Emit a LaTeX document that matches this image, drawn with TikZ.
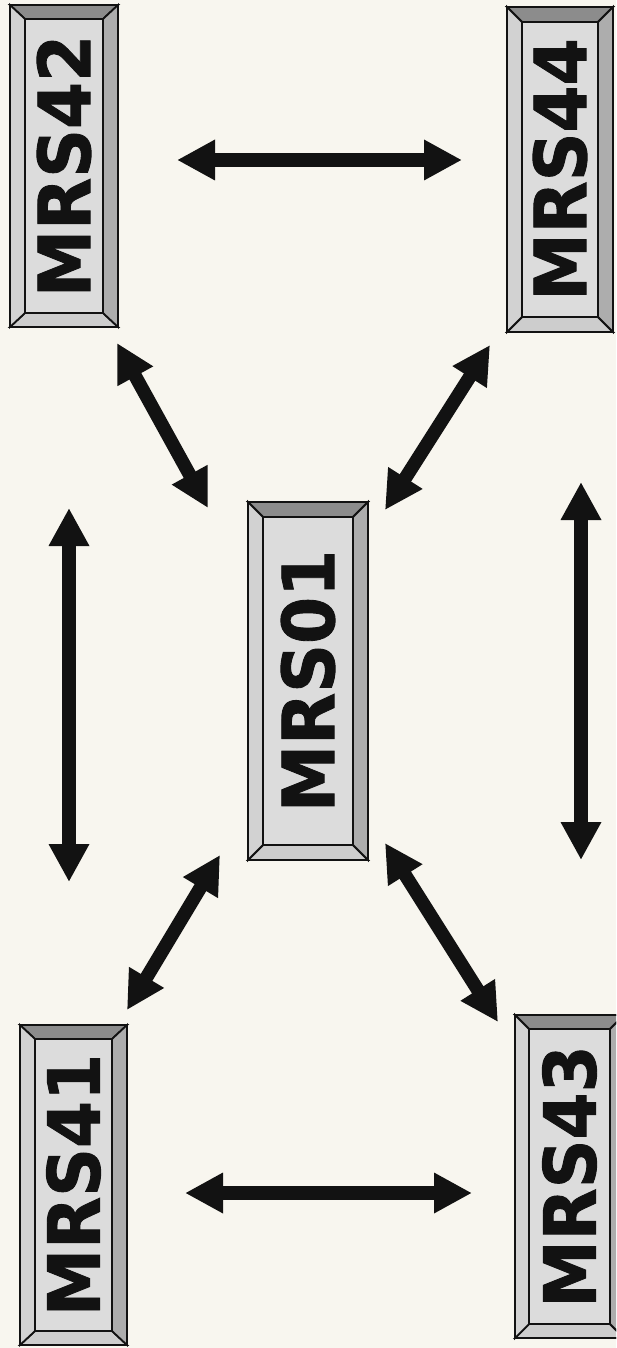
\documentclass[tikz,border=0pt]{standalone}
\usepackage{fontspec}
\newfontfamily\boxfont{DejaVu Sans}[BoldFont={DejaVu Sans Bold}, BoldFeatures={FakeBold=1.3}]
\usetikzlibrary{arrows.meta}
\definecolor{paper}{HTML}{F8F6EF}
\definecolor{bevdark}{HTML}{8C8C8C}
\definecolor{bevmid}{HTML}{ADADAD}
\definecolor{bevlight}{HTML}{D2D2D2}
\definecolor{bevlow}{HTML}{CDCDCD}
\definecolor{face}{HTML}{DCDCDC}
\definecolor{ink}{HTML}{121212}
\tikzset{
  bevline/.style={draw=ink, line width=1.8pt, line join=miter},
  boxlabel/.style={rotate=90, inner sep=0pt, text=ink,
    font=\boxfont\bfseries\fontsize{72}{72}\selectfont},
  link/.style={line width=13.5pt, draw=ink,
    {Triangle[length=38pt,width=38pt]}-{Triangle[length=38pt,width=38pt]}}
}
% name, ox1, oy1, ox2, oy2, inset x, inset y, label
\newcommand\bevelbox[8]{%
  \filldraw[bevline, fill=bevdark] (#2,#3) -- (#4,#3) -- (#4-#6,#3+#7) -- (#2+#6,#3+#7) -- cycle;
  \filldraw[bevline, fill=bevlow] (#2,#5) -- (#4,#5) -- (#4-#6,#5-#7) -- (#2+#6,#5-#7) -- cycle;
  \filldraw[bevline, fill=bevlight] (#2,#3) -- (#2+#6,#3+#7) -- (#2+#6,#5-#7) -- (#2,#5) -- cycle;
  \filldraw[bevline, fill=bevmid] (#4,#3) -- (#4-#6,#3+#7) -- (#4-#6,#5-#7) -- (#4,#5) -- cycle;
  \filldraw[bevline, fill=face] (#2+#6,#3+#7) rectangle (#4-#6,#5-#7);
  \draw[bevline] (#2,#3) rectangle (#4,#5);
  \node[boxlabel] (#1) at ({(#2+#4)/2},{(#3+#5)/2}) {\scalebox{0.94}[1]{#8}};
}
\begin{document}
\begin{tikzpicture}[x=1pt,y=-1pt]
  \fill[paper] (0,0) rectangle (616,1348);
  \useasboundingbox (0,0) rectangle (616,1348);
  \clip (0,0) rectangle (616,1348);

  \bevelbox{mrs42}{10}{5}{118}{327}{15}{14}{MRS42}
  \bevelbox{mrs44}{507}{7}{613}{332}{15}{15}{MRS44}
  \bevelbox{mrs01}{248}{502}{368}{860}{15}{15}{MRS01}
  \bevelbox{mrs41}{20}{1025}{127}{1345}{15}{14}{MRS41}
  \bevelbox{mrs43}{515}{1015}{624}{1338}{14}{14}{MRS43}

  % arrow end points
  \coordinate (t1) at (177,160);   \coordinate (t2) at (462,160);
  \coordinate (d1a) at (117,343);  \coordinate (d1b) at (208,508);
  \coordinate (d2a) at (490,345);  \coordinate (d2b) at (385,510);
  \coordinate (l1) at (69,508);    \coordinate (l2) at (69,882);
  \coordinate (r1) at (581,482);   \coordinate (r2) at (581,860);
  \coordinate (d3a) at (127,1010); \coordinate (d3b) at (220,855);
  \coordinate (d4a) at (385,843);  \coordinate (d4b) at (498,1022);
  \coordinate (b1) at (185,1193);  \coordinate (b2) at (472,1193);

  \draw[link] (t1) -- (t2);
  \draw[link] (d1a) -- (d1b);
  \draw[link] (d2a) -- (d2b);
  \draw[link] (l1) -- (l2);
  \draw[link] (r1) -- (r2);
  \draw[link] (d3a) -- (d3b);
  \draw[link] (d4a) -- (d4b);
  \draw[link] (b1) -- (b2);
\end{tikzpicture}
\end{document}
